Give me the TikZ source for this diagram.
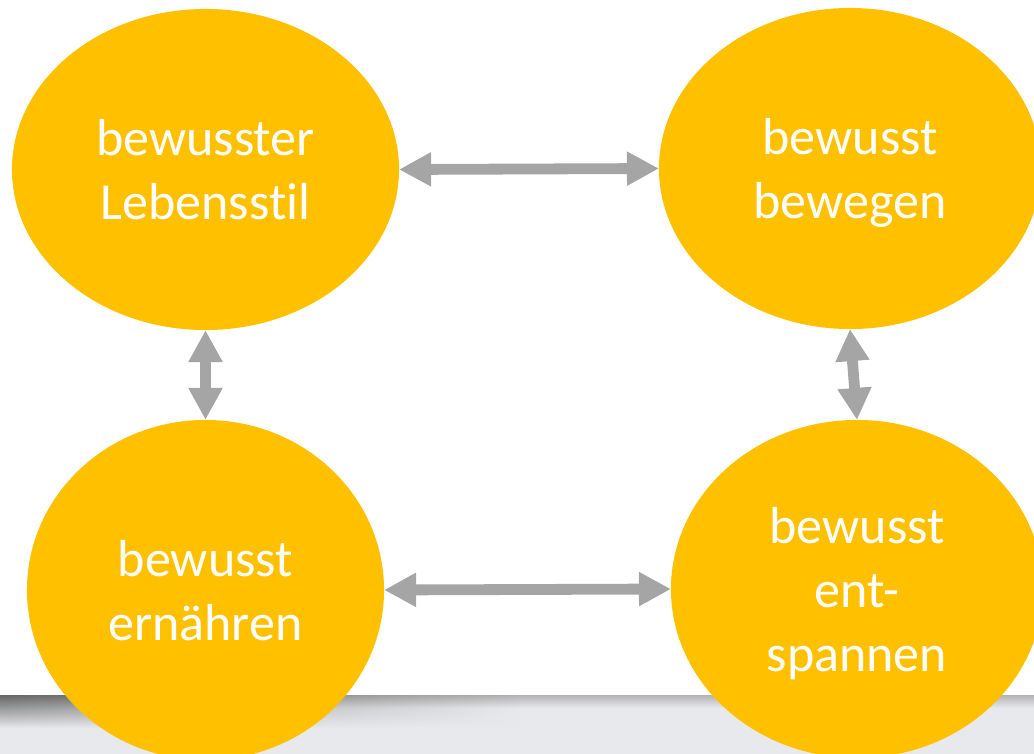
\documentclass[tikz,border=0pt]{standalone}
\usepackage{fontspec}
\setmainfont{Carlito}[Ligatures=NoCommon]
\usepackage{xcolor}
\definecolor{gold}{HTML}{FFC000}
\definecolor{arrowgrey}{HTML}{A5A5A5}
\definecolor{band}{HTML}{E8E9EC}
\usepackage{tikz}
\usetikzlibrary{shapes.geometric,arrows.meta,fadings}
\tikzfading[name=shadowfade, left color=transparent!0, right color=transparent!100]

\begin{document}
\begin{tikzpicture}[x=0.025cm, y=-0.025cm,
    every node/.style={font=\fontsize{37}{45.5}\selectfont},
    bubble/.style={ellipse, fill=gold, text=white, align=center,
                   inner sep=0pt, outer sep=0pt, text depth=0pt},
    arr/.style={{Triangle[length=0.8cm,width=0.8cm]}-{Triangle[length=0.8cm,width=0.8cm]},
                line width=0.27cm, draw=arrowgrey}]
  \useasboundingbox (0,0) rectangle (1034,754);
  \clip (0,0) rectangle (1034,754);
  % grey band at the foot with its shadow
  \fill[band] (0,695) rectangle (1034,754);
  \shade[top color=black!30, bottom color=band] (0,695) rectangle (1034,708);
  \shade[top color=black!60, bottom color=band, path fading=shadowfade] (0,695) rectangle (520,728);
  \node[bubble, minimum width=9.675cm, minimum height=8.025cm] (life) at (205.5,169.5) {bewusster\\Lebensstil};
  \node[bubble, minimum width=9.55cm, minimum height=8.025cm] (move) at (850,168.5) {bewusst\\bewegen};
  \node[bubble, minimum width=8.925cm, minimum height=8.5cm] (food) at (205.5,590) {bewusst\\ernähren};
  \node[bubble, minimum width=9.3cm, minimum height=8.45cm] (relax) at (857,589) {bewusst\\ent-\\spannen};
  \draw[arr] (life.east) -- (move.west);
  \draw[arr] (food.east) -- (relax.west);
  \draw[arr] (life.south) -- (food.north);
  \draw[arr] (move.south) -- (relax.north);
\end{tikzpicture}
\end{document}
